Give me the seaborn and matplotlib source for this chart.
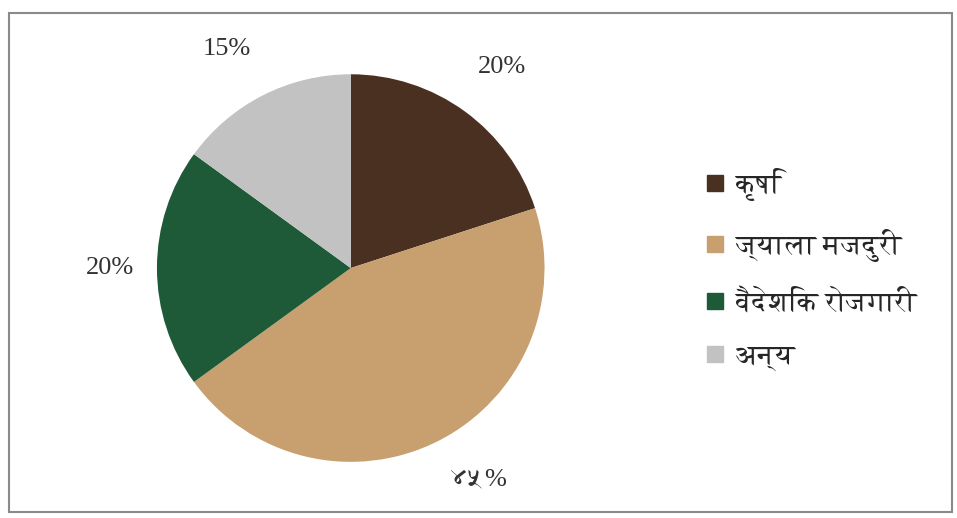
import matplotlib
matplotlib.use("Agg")
import matplotlib.pyplot as plt
import seaborn as sns
from matplotlib import font_manager
from matplotlib.ft2font import FT2Font
from matplotlib.lines import Line2D

categories = ["कृषि", "ज्याला मजदुरी", "वैदेशिक रोजगारी", "अन्य"]
shares = [20, 45, 20, 15]
pct_labels = ["20%", "४५%", "20%", "15%"]

colors = ["#4a3020", "#c8a070", "#1e5a38", "#c2c2c2"]
label_pos = [(0.78, 1.04), (0.66, -1.09), (-1.24, 0.0), (-0.64, 1.13)]

sns.set_style("white")

# collect installed fonts that have Devanagari letters, prefer serif, avoid mono
cands = []
for f in font_manager.fontManager.ttflist:
    try:
        if 0x0915 in FT2Font(f.fname).get_charmap():
            cands.append(f.name)
    except Exception:
        pass
cands = sorted(set(cands), key=lambda n: ("Mono" in n, "Serif" not in n, n))
fams = ["Liberation Serif"] + cands[:1] + ["DejaVu Serif", "DejaVu Sans"]
plt.rcParams["font.family"] = fams

fig = plt.figure(figsize=(9.57, 5.18), dpi=100)
fig.patches.append(plt.Rectangle((9 / 957, 1 - 512 / 518), 943 / 957, 499 / 518,
                                 transform=fig.transFigure, fill=False,
                                 edgecolor="#8a8a8a", linewidth=1.5))

ax = fig.add_axes([0.164, 0.108, 0.405, 0.749])
wedges, _ = ax.pie(shares, colors=colors, startangle=90, counterclock=False,
                   wedgeprops=dict(linewidth=0))
ax.set_xlim(-1, 1)
ax.set_ylim(-1, 1)
ax.set_aspect("equal")

for (x, y), t in zip(label_pos, pct_labels):
    ax.text(x, y, t, ha="center", va="center", fontsize=19, color="#333333",
            family=fams)

handles = [Line2D([], [], marker="s", linestyle="", markersize=12,
                  markerfacecolor=c, markeredgecolor=c) for c in colors]
fig.legend(handles, categories, loc="upper left", bbox_to_anchor=(0.706, 0.724),
           frameon=False, labelspacing=1.0, handletextpad=0.25,
           handlelength=1.0, prop=dict(family=fams, size=20))

fig.savefig("out.png", dpi=100)
